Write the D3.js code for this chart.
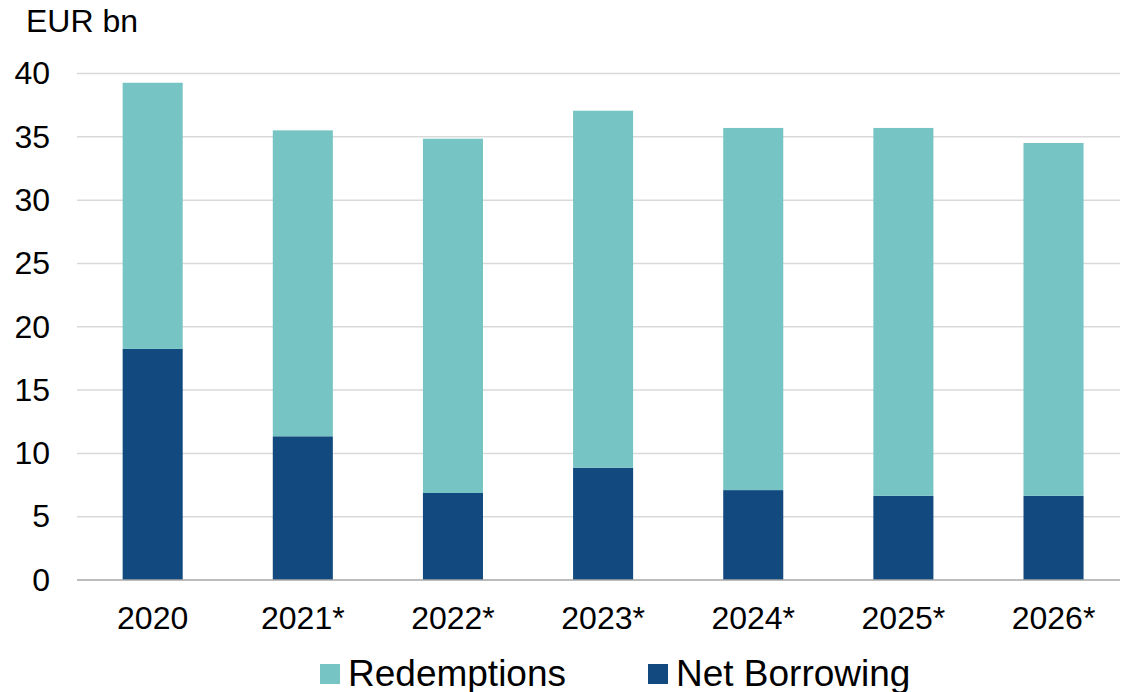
<!DOCTYPE html>
<html>
<head>
<meta charset="utf-8">
<script src="https://cdn.jsdelivr.net/npm/d3@7"></script>
<style>
  body { margin: 0; background: #fff; }
  svg { display: block; font-family: "Liberation Sans", Arial, sans-serif; }
  .grid line { stroke: #d9d9d9; stroke-width: 1.5; }
  .tick-label { font-size: 32px; fill: #000; }
  .legend-text { font-size: 37px; fill: #000; }
</style>
</head>
<body>
<svg width="1122" height="692"></svg>
<script>
// Data (EUR bn).
var years = ['2020', '2021*', '2022*', '2023*', '2024*', '2025*', '2026*'];
var netBorrowing = [18.25, 11.35, 6.87, 8.87, 7.1, 6.65, 6.65];
var redemptions = [21.02, 24.16, 27.98, 28.19, 28.6, 29.05, 27.86];
var yTicks = [0, 5, 10, 15, 20, 25, 30, 35, 40];
var seriesNames = ['Redemptions', 'Net Borrowing'];
var colors = {'Redemptions': '#76c4c3', 'Net Borrowing': '#124a80'};

var svg = d3.select('svg');

//Build a table for the stack generator.
var table = years.map(function(y, i) {
  return {year: y, 'Net Borrowing': netBorrowing[i], 'Redemptions': redemptions[i]};
});
//Net borrowing sits at the bottom, redemptions on top.
var stacked = d3.stack().keys(['Net Borrowing', 'Redemptions'])(table);

var xScale = d3.scaleBand()
  .domain(years)
  .range([77.6, 1128.6])
  .paddingInner(0.6)
  .paddingOuter(0.3);
var yScale = d3.scaleLinear()
  .domain([0, 40])
  .range([580, 73.5]);

//Gridlines.
svg.append('g').attr('class', 'grid')
  .selectAll('line')
  .data(yTicks.filter(function(d) { return d > 0; }))
  .join('line')
  .attr('x1', 77).attr('x2', 1120)
  .attr('y1', function(d) { return yScale(d); })
  .attr('y2', function(d) { return yScale(d); });

//Bars.
svg.append('g').selectAll('g')
  .data(stacked)
  .join('g')
  .attr('fill', function(s) { return colors[s.key]; })
  .selectAll('rect')
  .data(function(s) { return s; })
  .join('rect')
  .attr('x', function(d) { return xScale(d.data.year); })
  .attr('width', xScale.bandwidth())
  .attr('y', function(d) { return yScale(d[1]); })
  .attr('height', function(d) { return yScale(d[0]) - yScale(d[1]); });

//Baseline.
svg.append('line')
  .attr('x1', 77).attr('x2', 1120)
  .attr('y1', yScale(0)).attr('y2', yScale(0))
  .style('stroke', '#a6a6a6')
  .style('stroke-width', 1.5);

//Y axis labels.
var yAxis = svg.append('g')
  .attr('transform', 'translate(50,0)')
  .call(d3.axisLeft(yScale).tickValues(yTicks).tickSize(0).tickPadding(0));
yAxis.select('.domain').remove();
yAxis.selectAll('text')
  .attr('class', 'tick-label')
  .attr('font-size', null)
  .attr('font-family', null)
  .attr('fill', null);

//X axis labels.
var xAxis = svg.append('g')
  .attr('transform', 'translate(0,' + yScale(0) + ')')
  .call(d3.axisBottom(xScale).tickSize(0).tickPadding(26));
xAxis.select('.domain').remove();
xAxis.selectAll('text')
  .attr('class', 'tick-label')
  .attr('font-size', null)
  .attr('font-family', null)
  .attr('fill', null);

//Unit label.
svg.append('text')
  .attr('class', 'tick-label')
  .attr('x', 26)
  .attr('y', 31.5)
  .text('EUR bn');

//Legend.
var legendX = {'Redemptions': 320, 'Net Borrowing': 648};
var legend = svg.append('g').selectAll('g')
  .data(seriesNames)
  .join('g')
  .attr('transform', function(d) { return 'translate(' + legendX[d] + ',0)'; });
legend.append('rect')
  .attr('x', 0).attr('y', 664)
  .attr('width', 20).attr('height', 20)
  .attr('fill', function(d) { return colors[d]; });
legend.append('text')
  .attr('class', 'legend-text')
  .attr('x', 28)
  .attr('y', 686)
  .text(function(d) { return d; });
</script>
</body>
</html>
